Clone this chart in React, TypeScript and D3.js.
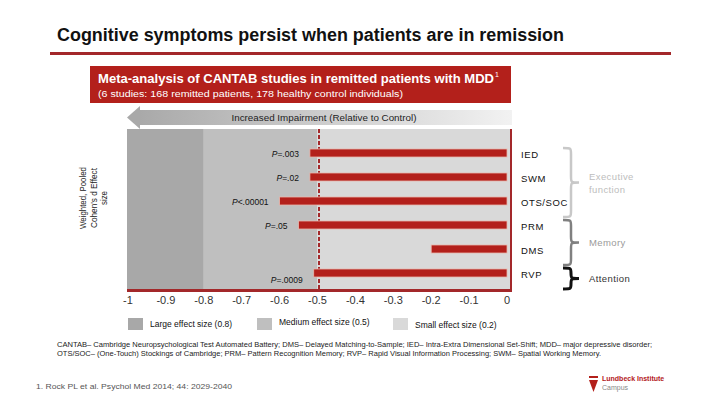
import React from "react";
import * as d3 from "d3";

// CANTAB domains, top to bottom
const categories = ["IED", "SWM", "OTS/SOC", "PRM", "DMS", "RVP"];
// weighted pooled Cohen's d (negative = impairment)
const effectSizes = [-0.52, -0.52, -0.6, -0.55, -0.2, -0.51];
const pValues = ["=.003", "=.02", "<.00001", "=.05", "", "=.0009"];
const xTicks = [-1, -0.9, -0.8, -0.7, -0.6, -0.5, -0.4, -0.3, -0.2, -0.1, 0];
const tickLabels = ["-1", "-0.9", "-0.8", "-0.7", "-0.6", "-0.5", "-0.4", "-0.3", "-0.2", "-0.1", "0"];
// background zones: large / medium / small effect
const zoneEdges = [-1, -0.8, -0.5, 0];
const zoneLabels = ["Large effect size (0.8)", "Medium effect size (0.5)", "Small effect size (0.2)"];
const zoneColors = ["#a8a8a8", "#bfbfbf", "#d9d9d9"];
const groups = [
  { name: ["Executive", "function"], from: "IED", to: "OTS/SOC", color: "#c8c8c8", text: "#bdbdbd" },
  { name: ["Memory"], from: "PRM", to: "DMS", color: "#808080", text: "#9a9a9a" },
  { name: ["Attention"], from: "RVP", to: "RVP", color: "#111", text: "#333" },
];

const FONT = "'Liberation Sans', Arial, sans-serif";
const RED = "#b3201b";

function bracePath(x0: number, y0: number, y1: number, w: number) {
  const mid = (y0 + y1) / 2;
  const r = Math.min(6, (y1 - y0) / 4);
  const xm = x0 + w / 2;
  return `M${x0},${y0} C${xm},${y0} ${xm},${y0} ${xm},${y0 + r} L${xm},${mid - r} C${xm},${mid} ${xm},${mid} ${x0 + w},${mid} C${xm},${mid} ${xm},${mid} ${xm},${mid + r} L${xm},${y1 - r} C${xm},${y1} ${xm},${y1} ${x0},${y1}`;
}

export default function App() {
  const x = d3.scaleLinear().domain([-1, 0]).range([128, 507]);
  const y = d3
    .scaleBand<string>()
    .domain(categories)
    .range([141, 285])
    .paddingInner(2 / 3)
    .paddingOuter(1 / 3);
  const bw = y.bandwidth();
  const cy = (c: string) => (y(c) as number) + bw / 2;

  const plotTop = 129;
  const plotBottom = 290;
  const plotLeft = 127;
  const plotRight = 512;

  return (
    <svg
      width={720}
      height={405}
      style={{ position: "absolute", left: 0, top: 0, background: "#fff" }}
      fontFamily={FONT}
    >
      <defs>
        <linearGradient id="arrowGrad" x1="0" x2="1" y1="0" y2="0">
          <stop offset="0" stopColor="#a9a9a9" />
          <stop offset="1" stopColor="#f2f2f2" />
        </linearGradient>
      </defs>

      {/* title */}
      <text x={57} y={41} fontSize={18} fontWeight="bold" fill="#111" textLength={507} lengthAdjust="spacingAndGlyphs">
        Cognitive symptoms persist when patients are in remission
      </text>
      <rect x={50} y={52} width={621} height={3} fill="#a3282a" />

      {/* header box */}
      <rect x={90} y={66} width={421} height={37} fill={RED} />
      <text x={98} y={83} fontSize={12} fontWeight="bold" fill="#fff" textLength={396} lengthAdjust="spacingAndGlyphs">
        Meta-analysis of CANTAB studies in remitted patients with MDD
      </text>
      <text x={495} y={77} fontSize={7} fill="#fff">1</text>
      <text x={98} y={97} fontSize={8.5} fill="#fff" textLength={305} lengthAdjust="spacingAndGlyphs">
        (6 studies: 168 remitted patients, 178 healthy control individuals)
      </text>

      {/* impairment arrow */}
      <rect x={139} y={110} width={plotRight - 139} height={15} fill="url(#arrowGrad)" />
      <path d={`M127,117.5 L140,106 L140,129 Z`} fill="#a9a9a9" />
      <text x={324} y={120.5} fontSize={9.5} fill="#222" textAnchor="middle" textLength={185} lengthAdjust="spacingAndGlyphs">
        Increased Impairment (Relative to Control)
      </text>

      {/* effect size zones */}
      {zoneColors.map((c, i) => {
        const x0 = i === 0 ? plotLeft : x(zoneEdges[i]);
        const x1 = i === zoneColors.length - 1 ? plotRight : x(zoneEdges[i + 1]);
        return <rect key={i} x={x0} y={plotTop} width={x1 - x0} height={plotBottom - plotTop} fill={c} />;
      })}
      <line x1={x(-0.5) + 1.5} x2={x(-0.5) + 1.5} y1={plotTop} y2={plotBottom} stroke="#a3282a" strokeWidth={2} strokeDasharray="4,2" />
      <line x1={plotRight - 1} x2={plotRight - 1} y1={plotTop} y2={plotBottom} stroke="#a3282a" strokeWidth={2} />

      {/* bars */}
      {categories.map((c, i) => (
        <g key={c}>
          <rect
            x={x(effectSizes[i])}
            y={y(c)}
            width={x(0) - x(effectSizes[i])}
            height={bw}
            fill={RED}
            stroke="#e9b7ad"
            strokeWidth={0.8}
          />
          {pValues[i] && (
            <text
              x={x(effectSizes[i]) - 11}
              y={i === categories.length - 1 ? cy(c) + 10 : cy(c) + 4}
              fontSize={8.5}
              fill="#111"
              textAnchor="end"
            >
              <tspan fontStyle="italic">P</tspan>
              {pValues[i]}
            </text>
          )}
          <text x={521} y={cy(c) + 5} fontSize={9.5} fill="#111" letterSpacing={0.6}>
            {c}
          </text>
        </g>
      ))}

      {/* bottom axis line */}
      <rect x={plotLeft} y={plotBottom - 1} width={plotRight - plotLeft} height={3} fill="#a3282a" />
      {xTicks.map((t, i) => (
        <text key={t} x={x(t)} y={304} fontSize={11} fill="#333" textAnchor="middle">
          {tickLabels[i]}
        </text>
      ))}

      {/* y axis title */}
      <g transform="translate(93,198) rotate(-90)" fontSize={9} fill="#222" textAnchor="middle">
        <text x={0} y={-7} textLength={62} lengthAdjust="spacingAndGlyphs">Weighted, Pooled</text>
        <text x={0} y={3.5} textLength={60} lengthAdjust="spacingAndGlyphs">Cohen's d Effect</text>
        <text x={0} y={14} textLength={14} lengthAdjust="spacingAndGlyphs">size</text>
      </g>

      {/* domain braces */}
      {groups.map((g) => {
        const y0 = cy(g.from) - 5;
        const y1 = cy(g.to) + 16;
        const mid = (y0 + y1) / 2;
        return (
          <g key={g.name[0]}>
            <path d={bracePath(563, y0, y1, 16)} fill="none" stroke={g.color} strokeWidth={g.color === "#111" ? 3 : 2.5} />
            {g.name.map((n, k) => (
              <text key={n} x={589} y={mid + 3.5 + (k - (g.name.length - 1) / 2) * 13} fontSize={9.5} fill={g.text} letterSpacing={0.4}>
                {n}
              </text>
            ))}
          </g>
        );
      })}

      {/* legend */}
      {zoneLabels.map((l, i) => {
        const lx = [128, 257, 393][i];
        return (
          <g key={l}>
            <rect x={lx} y={318} width={15} height={12} fill={zoneColors[i]} />
            <text x={lx + 22} y={[327, 325, 328][i]} fontSize={8.5} fill="#111">
              {l}
            </text>
          </g>
        );
      })}

      {/* footnotes */}
      <text x={57} y={347} fontSize={6.5} fill="#222" textLength={595} lengthAdjust="spacingAndGlyphs">
        CANTAB– Cambridge Neuropsychological Test Automated Battery; DMS– Delayed Matching-to-Sample; IED– Intra-Extra Dimensional Set-Shift; MDD– major depressive disorder;
      </text>
      <text x={57} y={356} fontSize={6.5} fill="#222" textLength={544} lengthAdjust="spacingAndGlyphs">
        OTS/SOC– (One-Touch) Stockings of Cambridge; PRM– Pattern Recognition Memory; RVP– Rapid Visual Information Processing; SWM– Spatial Working Memory.
      </text>
      <text x={36} y={389} fontSize={8} fill="#555" textLength={196} lengthAdjust="spacingAndGlyphs">
        1. Rock PL et al. Psychol Med 2014; 44: 2029-2040
      </text>

      {/* logo */}
      <g fill={RED}>
        <rect x={589} y={376} width={9} height={2} />
        <path d="M589,380 L598,380 L593.5,392 Z" />
      </g>
      <text x={602} y={381} fontSize={7} fontWeight="bold" fill={RED}>Lundbeck Institute</text>
      <text x={602} y={390} fontSize={7} fill="#888">Campus</text>
    </svg>
  );
}
